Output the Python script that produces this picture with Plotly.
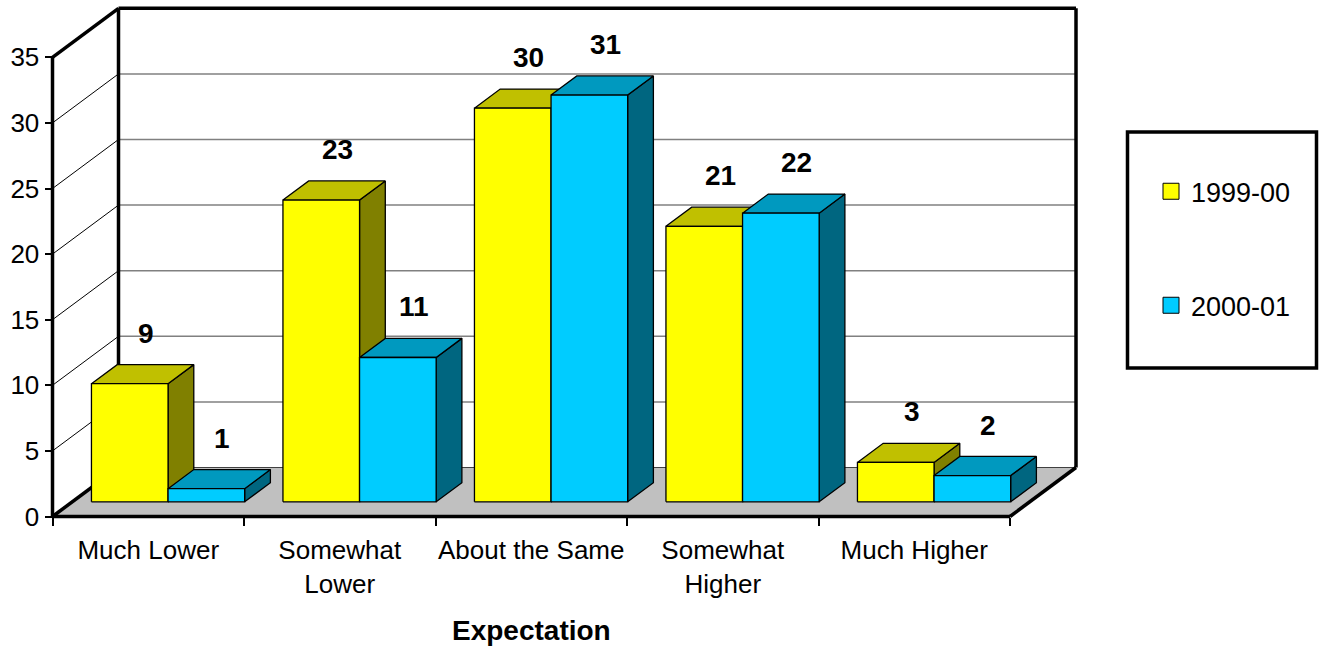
import plotly.graph_objects as go

# ---------------- data ----------------
categories = ["Much Lower", "Somewhat<br>Lower", "About the Same", "Somewhat<br>Higher", "Much Higher"]
series_names = ["1999-00", "2000-01"]
values_1999_00 = [9, 23, 30, 21, 3]
values_2000_01 = [1, 11, 31, 22, 2]
y_tick_values = [0, 5, 10, 15, 20, 25, 30, 35]
x_axis_title = "Expectation"

series_values = [values_1999_00, values_2000_01]
front_colors = ["#FFFF00", "#00CCFF"]
top_colors = ["#C0C000", "#0099BF"]
side_colors = ["#808000", "#006680"]

FONT = "Liberation Sans, Arial, sans-serif"

# ---------------- geometry (layout) ----------------
W, H = 1322, 648
ML, MR, MT, MB = 33, 226, 2, 125
OX, OY = 52.5, 516.5          # pixel of front/left/bottom corner
CAT_PX = 191.5                # pixels per category
VAL_PX = 13.12                # pixels per value unit
DEP_X_PX, DEP_Y_PX = 66, 49   # oblique depth offset in pixels
DX = DEP_X_PX / CAT_PX
DY = DEP_Y_PX / VAL_PX
YMAX = y_tick_values[-1]
NCAT = len(categories)
GAP = 0.1                     # gap at each side of the cluster (category units)
BAR_W = (1 - 2 * GAP) / len(series_names)
D_FRONT, D_BACK = 0.30, 0.69  # bar depth span (fraction of floor depth)

plot_w = W - ML - MR
plot_h = H - MT - MB
xa = -(OX - ML) / CAT_PX
xb = xa + plot_w / CAT_PX
ya = -(H - MB - OY) / VAL_PX
yb = ya + plot_h / VAL_PX


def px_to_paper_x(px):
    return (px - ML) / plot_w


def px_to_paper_y(py):
    return (H - MB - py) / plot_h


def P(x, y, d):
    return (x + d * DX, y + d * DY)


def polygon(pts, fill, lw=1.3, lc="black"):
    xs = [p[0] for p in pts] + [pts[0][0]]
    ys = [p[1] for p in pts] + [pts[0][1]]
    return go.Scatter(x=xs, y=ys, mode="lines", fill="toself", fillcolor=fill,
                      line=dict(color=lc, width=lw), hoverinfo="skip", showlegend=False)


def segments(segs, color, width):
    xs, ys = [], []
    for a, b in segs:
        xs += [a[0], b[0], None]
        ys += [a[1], b[1], None]
    return go.Scatter(x=xs, y=ys, mode="lines", line=dict(color=color, width=width),
                      hoverinfo="skip", showlegend=False)


fig = go.Figure()

# floor
fig.add_trace(polygon([P(0, 0, 0), P(NCAT, 0, 0), P(NCAT, 0, 1), P(0, 0, 1)],
                      "#C0C0C0", lw=0.5, lc="#C0C0C0"))

inner_ticks = y_tick_values[1:-1]
# back wall gridlines
fig.add_trace(segments([(P(0, v, 1), P(NCAT, v, 1)) for v in inner_ticks], "#808080", 1.5))
# left wall gridlines
fig.add_trace(segments([(P(0, v, 0), P(0, v, 1)) for v in inner_ticks], "black", 1))
# floor back edge
fig.add_trace(segments([(P(0, 0, 1), P(NCAT, 0, 1))], "#404040", 1))
# heavy frame edges
frame = [
    (P(0, 0, 0), P(0, YMAX, 0)),
    (P(0, YMAX, 0), P(0, YMAX, 1)),
    (P(0, YMAX, 1), P(NCAT, YMAX, 1)),
    (P(NCAT, YMAX, 1), P(NCAT, 0, 1)),
    (P(0, 0, 1), P(0, YMAX, 1)),
    (P(0, 0, 0), P(NCAT, 0, 0)),
    (P(0, 0, 0), P(0, 0, 1)),
    (P(NCAT, 0, 0), P(NCAT, 0, 1)),
]
fig.add_trace(segments(frame, "black", 3.5))

# bars
annotations = []
for i in range(NCAT):
    for j, vals in enumerate(series_values):
        v = vals[i]
        xl = i + GAP + j * BAR_W
        xr = xl + BAR_W
        side = [P(xr, 0, D_FRONT), P(xr, 0, D_BACK), P(xr, v, D_BACK), P(xr, v, D_FRONT)]
        top = [P(xl, v, D_FRONT), P(xr, v, D_FRONT), P(xr, v, D_BACK), P(xl, v, D_BACK)]
        front = [P(xl, 0, D_FRONT), P(xr, 0, D_FRONT), P(xr, v, D_FRONT), P(xl, v, D_FRONT)]
        fig.add_trace(polygon(side, side_colors[j]))
        fig.add_trace(polygon(top, top_colors[j]))
        fig.add_trace(polygon(front, front_colors[j]))
        dm = (D_FRONT + D_BACK) / 2
        lx, ly = P((xl + xr) / 2, v, dm)
        annotations.append(dict(x=lx, y=ly, xref="x", yref="y", text=f"<b>{v}</b>",
                                showarrow=False, xanchor="center", yanchor="middle",
                                xshift=3, yshift=41,
                                font=dict(family=FONT, size=28, color="black")))

# legend entries
legend_centers_px = [191.7, 305.7]
for j, name in enumerate(series_names):
    fig.add_trace(go.Scatter(x=[None], y=[None], mode="markers", name=name,
                             marker=dict(symbol="square", size=16, color=front_colors[j],
                                         line=dict(color="black", width=1)),
                             legend="legend" if j == 0 else "legend2", showlegend=True))

annotations.append(dict(x=NCAT / 2, xref="x", y=px_to_paper_y(630), yref="paper",
                        text=f"<b>{x_axis_title}</b>", showarrow=False,
                        xanchor="center", yanchor="middle",
                        font=dict(family=FONT, size=28, color="black")))

legend_common = dict(font=dict(family=FONT, size=27, color="black"),
                     bgcolor="rgba(0,0,0,0)", borderwidth=0,
                     xanchor="left", yanchor="middle", itemsizing="trace")

fig.update_layout(
    width=W, height=H,
    margin=dict(l=ML, r=MR, t=MT, b=MB, pad=0),
    paper_bgcolor="white", plot_bgcolor="white",
    font=dict(family=FONT, size=26, color="black"),
    showlegend=True,
    legend=dict(x=px_to_paper_x(1151), y=px_to_paper_y(legend_centers_px[0]), **legend_common),
    legend2=dict(x=px_to_paper_x(1151), y=px_to_paper_y(legend_centers_px[1]), **legend_common),
    xaxis=dict(range=[xa, xb], showgrid=False, zeroline=False, showline=False,
               anchor="free", position=px_to_paper_y(OY),
               tickmode="array", tickvals=[i + 0.5 for i in range(NCAT)], ticktext=categories,
               ticks="outside", ticklen=8, tickcolor="rgba(0,0,0,0)",
               ticklabelstandoff=2,
               tickfont=dict(family=FONT, size=26, color="black"),
               minor=dict(tickmode="array", tickvals=list(range(NCAT + 1)), ticks="outside",
                          ticklen=8, tickwidth=1.5, tickcolor="black", showgrid=False),
               fixedrange=True),
    yaxis=dict(range=[ya, yb], showgrid=False, zeroline=False, showline=False,
               anchor="free", position=px_to_paper_x(OX),
               tickmode="array", tickvals=y_tick_values,
               ticks="outside", ticklen=8, tickwidth=1.5, tickcolor="black",
               tickfont=dict(family=FONT, size=26, color="black"),
               fixedrange=True),
    shapes=[dict(type="rect", xref="paper", yref="paper",
                 x0=px_to_paper_x(1127.5), x1=px_to_paper_x(1316.5),
                 y0=px_to_paper_y(368), y1=px_to_paper_y(132),
                 line=dict(color="black", width=3.5), fillcolor="rgba(0,0,0,0)")],
    annotations=annotations,
)

fig.write_html("out.html")
